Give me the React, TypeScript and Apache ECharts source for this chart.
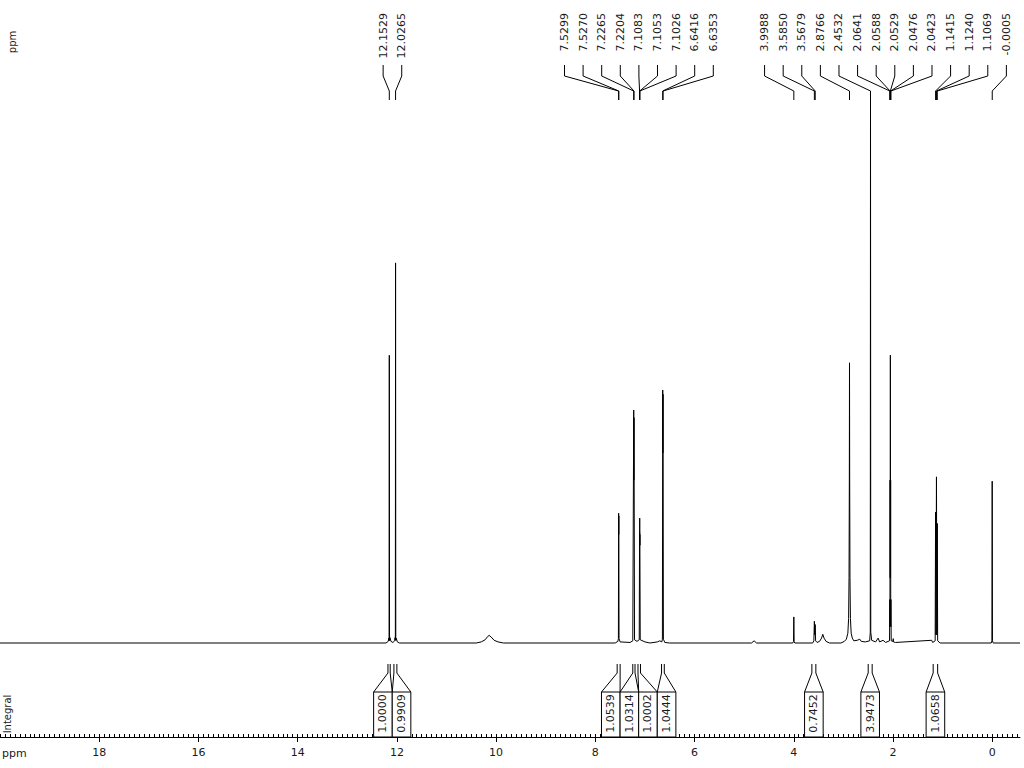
import React, { useEffect, useRef } from "react";
import * as echarts from "echarts";

const X_MIN = -0.56;
const X_MAX = 20;

// spectrum trace: [ppm, relative intensity %]
const spectrum: [number, number][] = [
  [20, 0], [12.22, 0], [12.175, 0.3], [12.162, 0.9], [12.1575, 0.4], [12.1529, 53.0], [12.148, 0.5],
  [12.14, 1.0], [12.12, 0.3], [12.08, 0.1], [12.045, 0.4], [12.036, 1.0], [12.031, 0.5],
  [12.0265, 70.0], [12.022, 0.5], [12.015, 0.9], [11.99, 0.2], [11.95, 0],
  [10.4, 0], [10.3, 0.2], [10.22, 0.6], [10.17, 1.2], [10.14, 1.4], [10.1, 1.1], [10.04, 0.5],
  [9.96, 0.2], [9.85, 0],
  [7.6, 0], [7.545, 0.3], [7.535, 0.8], [7.5299, 23.9], [7.5285, 20.0], [7.527, 23.4], [7.522, 0.8],
  [7.5, 0.2], [7.3, 0.1], [7.245, 0.4], [7.2265, 42.9], [7.2235, 30], [7.2204, 41.5], [7.21, 0.6],
  [7.16, 0.3], [7.115, 0.6], [7.1083, 20.5], [7.1068, 18], [7.1053, 23.0], [7.104, 18],
  [7.1026, 20.0], [7.095, 0.6], [7.0, 0.2], [6.9, 0], [6.75, 0.2], [6.7, 0.4], [6.66, 0.2],
  [6.648, 0.7], [6.6416, 46.6], [6.6385, 35], [6.6353, 45.8], [6.628, 0.7], [6.6, 0.1], [6.5, 0],
  [4.85, 0], [4.8, 0.4], [4.75, 0],
  [4.02, 0], [4.005, 0.3], [3.9988, 4.8], [3.993, 0.3], [3.98, 0],
  [3.62, 0], [3.595, 0.4], [3.585, 4.0], [3.576, 1.5], [3.5679, 3.4], [3.56, 0.4], [3.53, 0.1],
  [3.48, 0.3], [3.44, 0.9], [3.415, 1.6], [3.39, 0.9], [3.35, 0.3], [3.28, 0],
  [3.05, 0], [2.98, 0.3], [2.94, 0.7], [2.91, 1.8], [2.895, 4.5], [2.886, 12], [2.88, 30],
  [2.8766, 51.6], [2.873, 30], [2.867, 12], [2.858, 4.5], [2.843, 1.8], [2.82, 0.9], [2.79, 0.4],
  [2.72, 0.5], [2.67, 0.7], [2.64, 0.3], [2.56, 0.2], [2.47, 0.4], [2.458, 2], [2.4532, 100],
  [2.448, 2], [2.43, 0.5], [2.35, 0.2], [2.3, 0.9], [2.27, 0.2], [2.2, 0.5], [2.15, 0.1],
  [2.07, 0.4], [2.0641, 8], [2.0615, 3], [2.0588, 30], [2.056, 12], [2.0529, 53], [2.05, 12],
  [2.0476, 30], [2.045, 3], [2.0423, 8], [2.036, 0.4], [2.0, 0.3], [1.995, 0.8], [1.99, 0.2],
  [1.95, 0.1], [1.22, 0.5], [1.2, 0.1], [1.15, 0.4], [1.1415, 24.1], [1.133, 1.5], [1.124, 30.6],
  [1.115, 1.5], [1.1069, 22], [1.1, 0.4], [1.05, 0],
  [0.02, 0], [0.006, 0.4], [0.0005, 29.8], [-0.005, 0.4], [-0.02, 0], [-0.56, 0],
];

// peak pick labels (ppm)
const peakLabels: number[] = [
  12.1529, 12.0265,
  7.5299, 7.527, 7.2265, 7.2204, 7.1083, 7.1053, 7.1026, 6.6416, 6.6353,
  3.9988, 3.585, 3.5679, 2.8766, 2.4532, 2.0641, 2.0588, 2.0529, 2.0476, 2.0423,
  1.1415, 1.124, 1.1069, -0.0005,
];

// integral regions (ppm) and values
const integralFrom: number[] = [12.18, 12.06, 7.56, 7.245, 7.14, 6.665, 3.635, 2.5, 1.19];
const integralTo: number[] = [12.135, 12.0, 7.5, 7.2, 7.09, 6.61, 3.555, 2.42, 1.1];
const integralValues: string[] = ["1.0000", "0.9909", "1.0539", "1.0314", "1.0002", "1.0444", "0.7452", "3.9473", "1.0658"];

// axis tick labels
const majorTicks: number[] = [0, 2, 4, 6, 8, 10, 12, 14, 16, 18];
const minorTicks: number[] = [];
for (let i = -5; i <= 200; i++) minorTicks.push(i / 10);

const GRID_W = 1020;
const PX_PER_PPM = GRID_W / (X_MAX - X_MIN);
const LABEL_GAP = 18.6 / PX_PER_PPM;
const BOX_W = 18.6;
const BOX_GAP = BOX_W / PX_PER_PPM;

function spread(centers: number[], gap: number): number[] {
  const order = centers.map((_, i) => i).sort((a, b) => centers[b] - centers[a]);
  const clusters = order.map((i) => ({ idx: [i], mean: centers[i] }));
  let merged = true;
  while (merged) {
    merged = false;
    for (let k = 0; k < clusters.length - 1; k++) {
      const a = clusters[k];
      const b = clusters[k + 1];
      const aEnd = a.mean - ((a.idx.length - 1) / 2) * gap;
      const bStart = b.mean + ((b.idx.length - 1) / 2) * gap;
      if (aEnd - bStart < gap) {
        const idx = a.idx.concat(b.idx);
        const mean = idx.reduce((s, i) => s + centers[i], 0) / idx.length;
        clusters.splice(k, 2, { idx, mean });
        merged = true;
        break;
      }
    }
  }
  const pos: number[] = new Array(centers.length);
  clusters.forEach((c) =>
    c.idx.forEach((i, j) => {
      pos[i] = c.mean + ((c.idx.length - 1) / 2 - j) * gap;
    })
  );
  return pos;
}

const FONT = '"DejaVu Sans", sans-serif';
const TXT = "#1a1a1a";

export default function App() {
  const ref = useRef<HTMLDivElement>(null);
  useEffect(() => {
    if (!ref.current) return;
    const chart = echarts.init(ref.current, null, { renderer: "svg" });

    const labelPos = spread(peakLabels, LABEL_GAP);
    const peakData = peakLabels.map((p, i) => [p, labelPos[i]]);
    const mids = integralFrom.map((f, i) => (f + integralTo[i]) / 2);
    const boxPos = spread(mids, BOX_GAP);
    const integralData = integralFrom.map((f, i) => [f, integralTo[i], boxPos[i]]);

    const option: any = {
      animation: false,
      backgroundColor: "#fff",
      grid: [
        { left: 0, width: GRID_W, top: 100, bottom: 125 },
        { left: 0, width: GRID_W, top: 655, bottom: 31 },
      ],
      xAxis: [
        { type: "value", gridIndex: 0, min: X_MIN, max: X_MAX, inverse: true, show: false },
        {
          type: "value", gridIndex: 1, min: X_MIN, max: X_MAX, inverse: true, position: "bottom",
          axisLine: { show: true, lineStyle: { color: "#000", width: 1 } },
          axisTick: { show: true, customValues: majorTicks, inside: false, length: 5, lineStyle: { color: "#000" } },
          axisLabel: { show: true, customValues: majorTicks, margin: 10, color: TXT, fontFamily: FONT, fontSize: 11 },
          splitLine: { show: false },
        },
        {
          type: "value", gridIndex: 1, min: X_MIN, max: X_MAX, inverse: true, position: "bottom",
          axisLine: { show: false },
          axisTick: { show: true, customValues: minorTicks, inside: true, length: 3, lineStyle: { color: "#000" } },
          axisLabel: { show: false },
          splitLine: { show: false },
        },
      ],
      yAxis: [
        { type: "value", gridIndex: 0, min: 0, max: 100, show: false },
        { type: "value", gridIndex: 1, min: 0, max: 1, show: false },
      ],
      graphic: [
        { type: "text", x: 12, y: 42, rotation: Math.PI / 2, style: { text: "ppm", font: `10px ${FONT}`, fill: TXT, align: "center", verticalAlign: "middle", textAlign: "center", textVerticalAlign: "middle" } },
        { type: "text", x: 7, y: 714, rotation: Math.PI / 2, style: { text: "Integral", font: `10px ${FONT}`, fill: TXT, align: "center", verticalAlign: "middle", textAlign: "center", textVerticalAlign: "middle" } },
        { type: "text", x: 2, y: 753, style: { text: "ppm", font: `11px ${FONT}`, fill: TXT, align: "left", verticalAlign: "middle", textAlign: "left", textVerticalAlign: "middle" } },
      ],
      series: [
        {
          type: "line", xAxisIndex: 0, yAxisIndex: 0, data: spectrum, showSymbol: false, symbol: "none",
          lineStyle: { color: "#000", width: 1 }, silent: true, clip: false,
        },
        {
          type: "custom", xAxisIndex: 0, yAxisIndex: 0, data: peakData, silent: true, clip: false,
          renderItem: (params: any, api: any) => {
            const i = params.dataIndex;
            const px = api.coord([api.value(0), 0])[0];
            const lx = api.coord([api.value(1), 0])[0];
            return {
              type: "group",
              children: [
                {
                  type: "polyline",
                  shape: { points: [[lx, 65], [lx, 76], [px, 91], [px, 100]] },
                  style: { stroke: "#000", fill: null, lineWidth: 1 },
                },
                {
                  type: "text", x: lx, y: 13, rotation: Math.PI / 2,
                  style: { text: peakLabels[i].toFixed(4), font: `11px ${FONT}`, fill: TXT, align: "right", verticalAlign: "middle", textAlign: "right", textVerticalAlign: "middle" },
                },
              ],
            };
          },
        },
        {
          type: "custom", xAxisIndex: 1, yAxisIndex: 1, data: integralData, silent: true, clip: false,
          renderItem: (params: any, api: any) => {
            const i = params.dataIndex;
            const p1 = api.coord([api.value(0), 0]);
            const x1 = p1[0];
            const base = p1[1];
            const x2 = api.coord([api.value(1), 0])[0];
            const bc = api.coord([api.value(2), 0])[0];
            const bl = bc - BOX_W / 2;
            const br = bc + BOX_W / 2;
            const topY = base - 73;
            const diagY = base - 64;
            const boxY = base - 45;
            return {
              type: "group",
              children: [
                { type: "polyline", shape: { points: [[x1, topY], [x1, diagY], [bl, boxY]] }, style: { stroke: "#000", fill: null, lineWidth: 1 } },
                { type: "polyline", shape: { points: [[x2, topY], [x2, diagY], [br, boxY]] }, style: { stroke: "#000", fill: null, lineWidth: 1 } },
                { type: "rect", shape: { x: bl, y: boxY, width: BOX_W, height: base - boxY }, style: { stroke: "#000", fill: "#fff", lineWidth: 1 } },
                {
                  type: "text", x: bc, y: boxY + (base - boxY) / 2 - 1, rotation: Math.PI / 2,
                  style: { text: integralValues[i], font: `11px ${FONT}`, fill: TXT, align: "center", verticalAlign: "middle", textAlign: "center", textVerticalAlign: "middle" },
                },
              ],
            };
          },
        },
      ],
    };
    chart.setOption(option);
    return () => chart.dispose();
  }, []);
  return <div ref={ref} style={{ position: "fixed", left: 0, top: 0, width: 1024, height: 768, background: "#fff" }} />;
}
